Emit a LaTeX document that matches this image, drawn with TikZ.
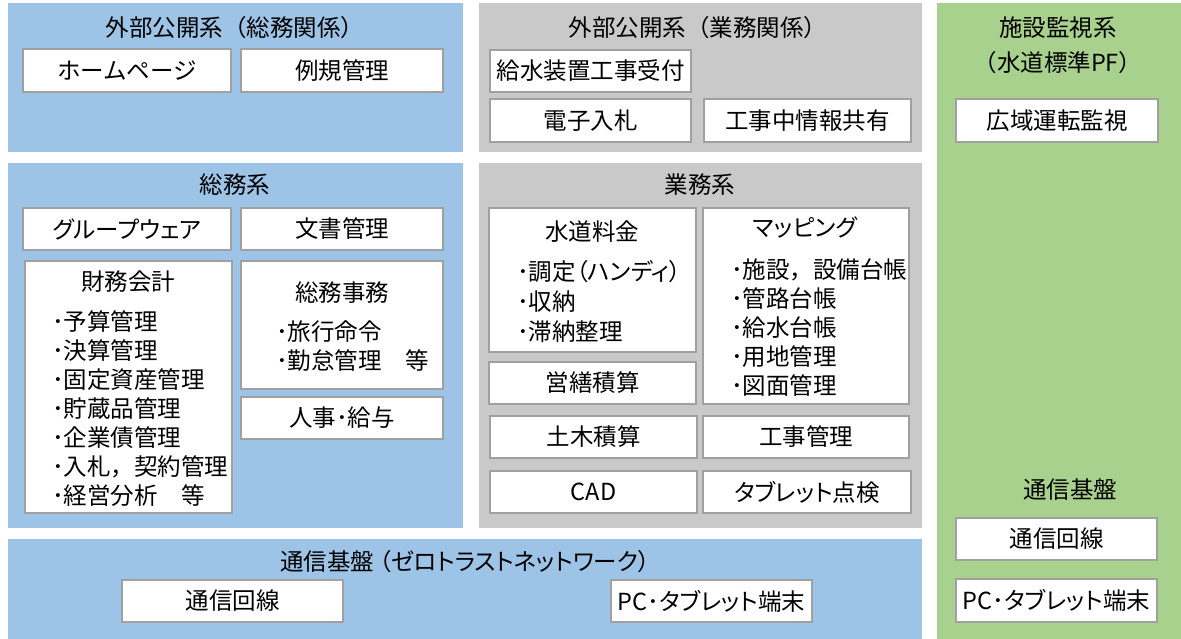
\documentclass[tikz,border=0pt]{standalone}
\usepackage{fontspec}
\setmainfont{Noto Sans CJK JP}
\newfontfamily\paltfont[RawFeature=+palt]{Noto Sans CJK JP}
\usetikzlibrary{fit}
\definecolor{bluep}{HTML}{9DC3E6}
\definecolor{grayp}{HTML}{C9C9C9}
\definecolor{greenp}{HTML}{A9D18E}
\definecolor{borderg}{HTML}{A0A0A0}
\begin{document}
\begin{tikzpicture}[x=1pt,y=-1pt,
  panel/.style={draw=none, inner sep=0pt, outer sep=0pt},
  box/.style={draw=borderg, line width=1.2pt, fill=white, inner sep=0pt, outer sep=0pt},
  lbl/.style={inner sep=0pt, font=\fontsize{23.5}{28}\selectfont},
  plbl/.style={lbl, font=\fontsize{23.5}{28}\paltfont},
  bul/.style={lbl, anchor=west},
  pbul/.style={plbl, anchor=west}]
\useasboundingbox (0,0) rectangle (1181,639);
\fill[white] (0,0) rectangle (1181,639);
% panels
\node[panel, fill=bluep, fit={(8,3)(463,152)}] (pA) {};
\node[panel, fill=grayp, fit={(479,3)(922,152)}] (pB) {};
\node[panel, fill=greenp, fit={(937,3)(1181,639)}] (pC) {};
\node[panel, fill=bluep, fit={(8,163)(463,528)}] (pD) {};
\node[panel, fill=grayp, fit={(479,163)(922,528)}] (pE) {};
\node[panel, fill=bluep, fit={(8,539)(922,639)}] (pF) {};
% panel titles
\node[lbl] (tA) at (235,28) {外部公開系（総務関係）};
\node[lbl] (tB) at (698,28) {外部公開系（業務関係）};
\node[lbl] (tC1) at (1058,28) {施設監視系};
\node[lbl] (tC2) at (1058,63) {（水道標準PF）};
\node[lbl] (tD) at (235,185) {総務系};
\node[lbl] (tE) at (700,185) {業務系};
\node[lbl] (tG) at (1070,490) {通信基盤};
\node[plbl] (tF) at (465,562) {通信基盤 （ゼロトラストネットワーク）};
% top boxes
\node[box, fit={(23,49)(231,92)}] (hp) {};
\node[lbl] at (hp.center) {ホームページ};
\node[box, fit={(241,49)(443,92)}] (rk) {};
\node[lbl] at (rk.center) {例規管理};
\node[box, fit={(490,50)(691,92)}] (ks) {};
\node[lbl] at (ks.center) {給水装置工事受付};
\node[box, fit={(490,99)(691,142)}] (dn) {};
\node[lbl] at (dn.center) {電子入札};
\node[box, fit={(704,99)(911,142)}] (kj) {};
\node[lbl] at (kj.center) {工事中情報共有};
\node[box, fit={(956,99)(1158,142)}] (kk) {};
\node[lbl] at (kk.center) {広域運転監視};
% somu
\node[box, fit={(23,208)(231,250)}] (gw) {};
\node[plbl] at (gw.center) {グループウェア};
\node[box, fit={(241,208)(443,250)}] (bs) {};
\node[lbl] at (bs.center) {文書管理};
\node[box, fit={(25,261)(232,513)}] (zm) {};
\node[lbl] (zmT) at (128,282) {財務会計};
\node[bul] (zm1) at (52,322) {･予算管理};
\node[bul] (zm2) at (52,351) {･決算管理};
\node[bul] (zm3) at (52,380) {･固定資産管理};
\node[bul] (zm4) at (52,409) {･貯蔵品管理};
\node[bul] (zm5) at (52,438) {･企業債管理};
\node[bul] (zm6) at (52,467) {･入札，契約管理};
\node[bul] (zm7) at (52,496) {･経営分析　等};
\node[box, fit={(241,261)(443,389)}] (sj) {};
\node[lbl] (sjT) at (342,293) {総務事務};
\node[bul] (sj1) at (276,332) {･旅行命令};
\node[bul] (sj2) at (276,361) {･勤怠管理　等};
\node[box, fit={(241,397)(443,439)}] (jk) {};
\node[lbl] at (jk.center) {人事･給与};
% gyomu
\node[box, fit={(489,208)(696,352)}] (sr) {};
\node[lbl] (srT) at (592,232) {水道料金};
\node[pbul] (sr1) at (517,272) {･調定（ハンディ）};
\node[bul] (sr2) at (517,302) {･収納};
\node[bul] (sr3) at (517,332) {･滞納整理};
\node[box, fit={(489,362)(696,404)}] (es) {};
\node[lbl] at (es.center) {営繕積算};
\node[box, fit={(703,208)(909,404)}] (mp) {};
\node[plbl] (mpT) at (805,228) {マッピング};
\node[bul] (mp1) at (731,270) {･施設，設備台帳};
\node[bul] (mp2) at (731,299) {･管路台帳};
\node[bul] (mp3) at (731,328) {･給水台帳};
\node[bul] (mp4) at (731,357) {･用地管理};
\node[bul] (mp5) at (731,386) {･図面管理};
\node[box, fit={(490,416)(697,458)}] (dm) {};
\node[lbl] at (dm.center) {土木積算};
\node[box, fit={(703,416)(909,458)}] (kr) {};
\node[lbl] at (kr.center) {工事管理};
\node[box, fit={(490,471)(697,513)}] (cad) {};
\node[lbl] at (cad.center) {CAD};
\node[box, fit={(703,471)(911,513)}] (tt) {};
\node[plbl] at (tt.center) {タブレット点検};
% network
\node[box, fit={(122,580)(343,622)}] (ts1) {};
\node[lbl] at (ts1.center) {通信回線};
\node[box, fit={(611,580)(812,622)}] (pc1) {};
\node[plbl] at (pc1.center) {PC･タブレット端末};
\node[box, fit={(956,518)(1157,560)}] (ts2) {};
\node[lbl] at (ts2.center) {通信回線};
\node[box, fit={(956,579)(1157,622)}] (pc2) {};
\node[plbl] at (pc2.center) {PC･タブレット端末};
\end{tikzpicture}
\end{document}
